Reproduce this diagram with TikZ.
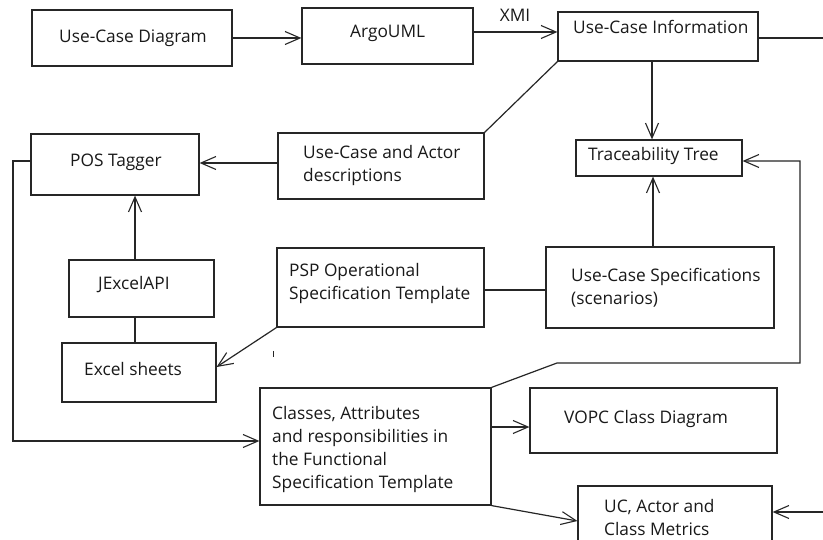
\documentclass[tikz,border=0pt]{standalone}
\usepackage{fontspec}
\setmainfont{Open Sans}
\usetikzlibrary{arrows.meta}
\begin{document}
\begin{tikzpicture}[x=1pt,y=-1pt,
  box/.style={draw=black!85, line width=1.2pt, inner sep=0pt, rectangle},
  lbl/.style={anchor=west, inner sep=0pt, align=left, text=black!90, font=\fontsize{17.3}{23}\selectfont},
  conn/.style={draw=black!85, line width=1.2pt},
  arr/.style={conn, -{Straight Barb[length=15pt,width=13pt,line width=1.1pt]}}
]
\useasboundingbox (0,0) rectangle (823,540);
\clip (0,0) rectangle (823,540);
\fill[white] (0,0) rectangle (823,540);
% boxes
\node[box, minimum width=200pt, minimum height=56pt] (ucd) at (132,38) {};
\node[box, minimum width=171pt, minimum height=56pt] (argo) at (387.5,36) {};
\node[box, minimum width=200pt, minimum height=49pt] (uci) at (658,36.5) {};
\node[box, minimum width=206pt, minimum height=66pt] (ucad) at (381,166) {};
\node[box, minimum width=168pt, minimum height=61pt] (pos) at (115,164.5) {};
\node[box, minimum width=166pt, minimum height=36pt] (tt) at (659,158) {};
\node[box, minimum width=228pt, minimum height=81pt] (ucs) at (660,287.5) {};
\node[box, minimum width=207pt, minimum height=79pt] (psp) at (380.5,287.5) {};
\node[box, minimum width=145pt, minimum height=57pt] (jx) at (141.5,288.5) {};
\node[box, minimum width=154pt, minimum height=59pt] (es) at (139,372.5) {};
\node[box, minimum width=231pt, minimum height=117pt] (cls) at (375.5,446.5) {};
\node[box, minimum width=247pt, minimum height=65pt] (vopc) at (653.5,420.5) {};
\node[box, minimum width=194pt, minimum height=74pt] (met) at (675,523) {};
% texts
\node[lbl] (ucdt) at (59,38) {Use-Case Diagram};
\node[lbl] (argot) at (350,33) {ArgoUML};
\node[lbl] (ucit) at (573,27) {Use-Case Information};
\node[lbl] (ucadt) at (303,165.5) {Use-Case and Actor\\descriptions};
\node[lbl] (post) at (70,162) {POS Tagger};
\node[lbl] (ttt) at (588,156) {Traceability Tree};
\node[lbl] (ucst) at (571,288) {Use-Case Specifications\\(scenarios)};
\node[lbl] (pspt) at (289,283.5) {PSP Operational\\Specification Template};
\node[lbl] (jxt) at (98,285) {JExcelAPI};
\node[lbl] (est) at (84,369) {Excel sheets};
\node[lbl] (clst) at (272,449.5) {Classes, Attributes\\and responsibilities in\\the Functional\\Specification Template};
\node[lbl] (vopct) at (564,419) {VOPC Class Diagram};
\node[lbl] (mett) at (604,517.5) {UC, Actor and\\Class Metrics};
\node[lbl, anchor=center] (xmi) at (515,15) {XMI};
% free ends
\coordinate (r1) at (823,38);
\coordinate (r2) at (823,512);
\coordinate (lc1) at (13,161);
\coordinate (lc2) at (13,441);
\coordinate (b1) at (557,363);
\coordinate (b2) at (800,363);
\coordinate (b3) at (800,161);
% connectors
\draw[arr] (ucd.east) -- (ucd.east -| argo.west);
\draw[arr] (argo.east |- 0,32) -- (uci.west |- 0,32);
\draw[conn] (uci.east |- r1) -- (r1);
\draw[conn] (uci.south west) -- (ucad.north east);
\draw[arr] (ucad.west |- 0,163) -- (pos.east |- 0,163);
\draw[arr] (uci.south -| 652,0) -- (tt.north -| 652,0);
\draw[arr] (ucs.north -| 653,0) -- (tt.south -| 653,0);
\draw[arr] (pos.west |- lc1) -- (lc1) -- (lc2) -- (cls.west |- lc2);
\draw[arr] (jx.north -| 135,0) -- (pos.south -| 135,0);
\draw[conn] (jx.south -| 135,0) -- (es.north -| 135,0);
\draw[arr] (psp.south west) -- (es.east |- 0,367);
\draw[conn] (psp.east |- 0,290) -- (ucs.west |- 0,290);
\draw[arr] (cls.north east) -- (b1) -- (b2) -- (b3) -- (tt.east |- b3);
\draw[arr] (cls.east |- 0,427) -- (vopc.west |- 0,427);
\draw[arr] (cls.south east) -- (met.west |- 0,521);
\draw[arr] (r2) -- (met.east |- r2);
\draw[line width=0.8pt, black!85] (273,351) -- (273,357);
\end{tikzpicture}
\end{document}
